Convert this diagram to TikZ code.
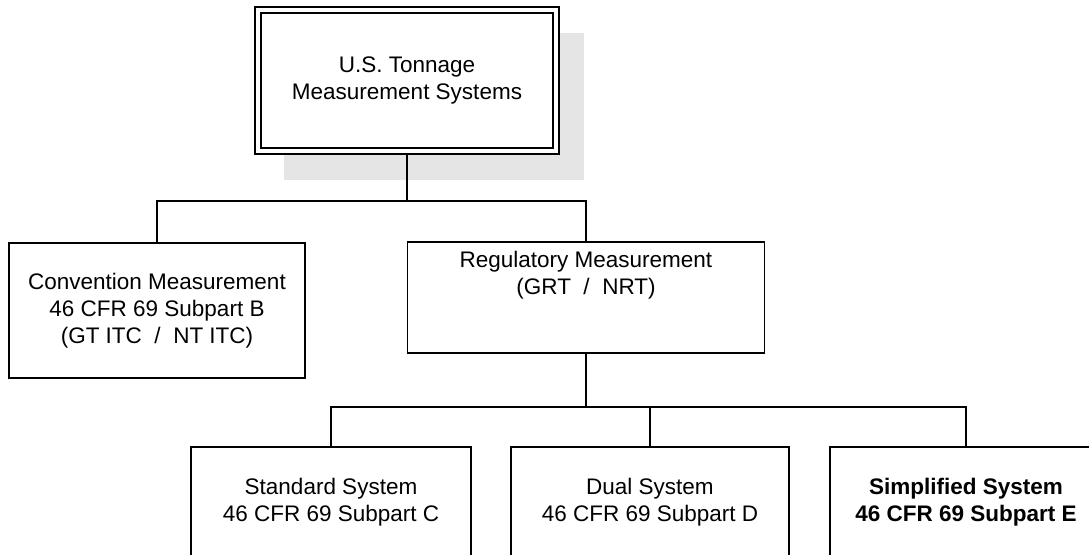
\documentclass[tikz,border=0pt]{standalone}
\usepackage{fontspec}
\setmainfont{Liberation Sans}
\usetikzlibrary{positioning}
\begin{document}
\begin{tikzpicture}[x=0.5pt,y=-0.5pt]
    \tikzstyle{box} = [rectangle, draw=black, line width=0.8pt, inner sep=0pt, align=center, font=\fontsize{11.25pt}{13.5pt}\selectfont]
    \tikzstyle{line} = [line width=0.8pt]
    \tikzstyle{shadow} = [fill=black!10]
    \useasboundingbox (0,0) rectangle (1089,554);
    \clip (0,0) rectangle (1089,554);

    % drop shadow of the title box
    \fill [shadow] (284,33) rectangle (584,180);

    \node (top) [box, double, double distance=2.25pt, line width=0.75pt, outer sep=1.875pt, fill=white, minimum width=149pt, minimum height=70.5pt] at (407,80.5) {U.S. Tonnage\\Measurement Systems};
    \node (conv) [box, minimum width=148pt, minimum height=67.5pt] at (157,310.5) {Convention Measurement\\46 CFR 69 Subpart B\\(GT ITC~~/~~NT ITC)};
    \node (reg) [box, minimum width=178.5pt, minimum height=55.5pt] at (586,297.5) {};
    \node (reg text) [box, draw=none, anchor=north, yshift=-4.5pt] at (reg.north) {Regulatory Measurement\\(GRT~~/~~NRT)};
    \node (std) [box, minimum width=140pt, minimum height=55pt] at (331,502) {Standard System\\46 CFR 69 Subpart C};
    \node (dual) [box, minimum width=139pt, minimum height=55pt] at (650,502) {Dual System\\46 CFR 69 Subpart D};
    \node (simp) [box, font=\fontsize{11.25pt}{13.5pt}\selectfont\bfseries, minimum width=136pt, minimum height=55pt] at (966,502) {Simplified System\\46 CFR 69 Subpart E};

    \draw [line] (top.south) -- ++(0,46) -| (conv.north);
    \draw [line] (top.south) ++(0,46) -| (reg.north);
    \draw [line] (reg.south) -- ++(0,53) -| (std.north);
    \draw [line] (reg.south) ++(0,53) -| (dual.north);
    \draw [line] (reg.south) ++(0,53) -| (simp.north);
\end{tikzpicture}
\end{document}
